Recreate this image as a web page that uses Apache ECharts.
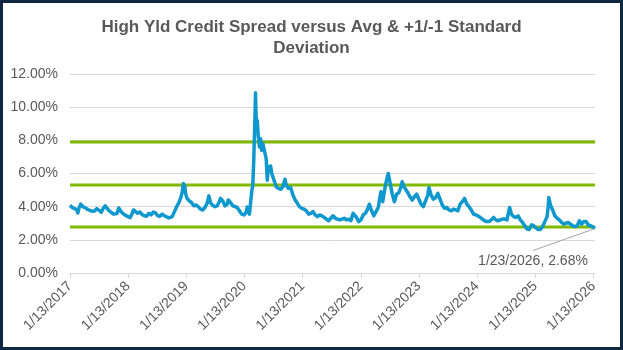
<!DOCTYPE html>
<html>
<head>
<meta charset="utf-8">
<script src="https://cdn.jsdelivr.net/npm/echarts@6/dist/echarts.min.js"></script>
<style>
  html, body { margin: 0; padding: 0; background: #ffffff; }
  #wrap { position: relative; width: 623px; height: 350px; }
  #chart { position: absolute; left: 0; top: 0; width: 623px; height: 350px; }
  #frame { position: absolute; left: 0; top: 0; width: 623px; height: 350px;
           box-sizing: border-box; border: 3px solid #0E2841; pointer-events: none; }
</style>
</head>
<body>
<div id="wrap">
  <div id="chart"></div>
  <div id="frame"></div>
</div>
<script>
// Observation dates (roughly every two weeks, extra points around sharp moves)
const obsDates = [
  '2017-01-13','2017-01-27','2017-02-10','2017-02-24','2017-03-03','2017-03-10','2017-03-21','2017-04-07','2017-04-21','2017-05-05','2017-05-19','2017-06-02','2017-06-16','2017-06-30','2017-07-14','2017-07-28','2017-08-11','2017-08-22','2017-09-01','2017-09-15','2017-09-29','2017-10-13','2017-10-24','2017-11-03','2017-11-15','2017-11-28','2017-12-12','2017-12-27',
  '2018-01-12','2018-01-26','2018-02-09','2018-02-16','2018-02-28','2018-03-14','2018-03-28','2018-04-11','2018-04-25','2018-05-09','2018-05-23','2018-06-06','2018-06-20','2018-07-04','2018-07-18','2018-08-01','2018-08-15','2018-08-29','2018-09-12','2018-09-26','2018-10-05','2018-10-17','2018-10-31','2018-11-14','2018-11-28','2018-12-12','2018-12-19','2018-12-26',
  '2019-01-04','2019-01-09','2019-01-18','2019-02-01','2019-02-15','2019-03-01','2019-03-15','2019-03-29','2019-04-12','2019-04-26','2019-05-10','2019-05-24','2019-06-04','2019-06-14','2019-06-28','2019-07-12','2019-07-26','2019-08-09','2019-08-16','2019-08-30','2019-09-13','2019-09-27','2019-10-04','2019-10-18','2019-11-01','2019-11-15','2019-11-29','2019-12-13','2019-12-27',
  '2020-01-10','2020-01-24','2020-01-31','2020-02-14','2020-02-21','2020-02-28','2020-03-06','2020-03-12','2020-03-16','2020-03-20','2020-03-23','2020-03-26','2020-03-31','2020-04-03','2020-04-09','2020-04-17','2020-04-24','2020-05-01','2020-05-08','2020-05-15','2020-05-29','2020-06-05','2020-06-12','2020-06-19','2020-06-26','2020-07-03','2020-07-17','2020-07-31','2020-08-14','2020-08-28','2020-09-11','2020-09-24','2020-10-02','2020-10-16','2020-10-30','2020-11-13','2020-11-27','2020-12-11','2020-12-24',
  '2021-01-08','2021-01-22','2021-02-05','2021-02-19','2021-03-05','2021-03-19','2021-04-02','2021-04-16','2021-04-30','2021-05-14','2021-05-28','2021-06-11','2021-06-25','2021-07-09','2021-07-23','2021-08-06','2021-08-20','2021-09-03','2021-09-17','2021-10-01','2021-10-15','2021-10-29','2021-11-12','2021-11-26','2021-12-03','2021-12-17','2021-12-31',
  '2022-01-14','2022-01-28','2022-02-11','2022-02-25','2022-03-08','2022-03-22','2022-04-05','2022-04-19','2022-05-03','2022-05-12','2022-05-20','2022-05-31','2022-06-10','2022-06-17','2022-06-24','2022-07-05','2022-07-15','2022-07-29','2022-08-12','2022-08-26','2022-09-09','2022-09-23','2022-09-30','2022-10-07','2022-10-21','2022-11-04','2022-11-18','2022-12-02','2022-12-16','2022-12-30',
  '2023-01-13','2023-01-27','2023-02-10','2023-02-24','2023-03-10','2023-03-17','2023-03-31','2023-04-14','2023-04-28','2023-05-12','2023-05-26','2023-06-09','2023-06-23','2023-07-07','2023-07-21','2023-08-04','2023-08-18','2023-09-01','2023-09-15','2023-09-29','2023-10-13','2023-10-27','2023-11-10','2023-11-24','2023-12-08','2023-12-22',
  '2024-01-05','2024-01-19','2024-02-02','2024-02-16','2024-03-01','2024-03-15','2024-03-29','2024-04-12','2024-04-26','2024-05-10','2024-05-24','2024-06-07','2024-06-21','2024-07-05','2024-07-19','2024-08-05','2024-08-16','2024-08-30','2024-09-13','2024-09-27','2024-10-11','2024-10-25','2024-11-08','2024-11-22','2024-12-06','2024-12-20',
  '2025-01-03','2025-01-17','2025-01-31','2025-02-14','2025-02-28','2025-03-14','2025-03-28','2025-04-04','2025-04-08','2025-04-18','2025-05-02','2025-05-16','2025-05-30','2025-06-13','2025-06-27','2025-07-11','2025-07-25','2025-08-08','2025-08-22','2025-09-05','2025-09-19','2025-10-03','2025-10-17','2025-10-31','2025-11-14','2025-11-28','2025-12-12','2025-12-26',
  '2026-01-09','2026-01-23'
];

// High-yield credit spread, percent
const spreadPct = [
  4.08,3.95,3.88,3.82,3.62,3.90,4.15,3.98,3.92,3.82,3.78,3.72,3.74,3.88,3.78,3.66,3.92,4.05,3.92,3.76,3.66,3.55,3.48,3.58,3.92,3.72,3.58,3.48,
  3.40,3.34,3.62,3.80,3.72,3.60,3.68,3.52,3.45,3.42,3.60,3.50,3.68,3.62,3.45,3.42,3.55,3.45,3.38,3.32,3.24,3.40,3.70,4.00,4.25,4.60,4.90,5.40,
  5.20,4.80,4.50,4.35,4.25,4.05,4.10,4.00,3.85,3.80,3.95,4.20,4.65,4.25,4.08,4.00,4.05,4.30,4.50,4.35,4.05,4.15,4.40,4.25,4.05,4.00,3.95,3.75,3.55,
  3.50,3.65,3.98,3.55,3.50,4.90,5.30,6.80,8.20,9.50,10.87,9.60,8.80,9.20,8.30,7.60,8.10,7.40,7.80,7.50,6.90,5.60,6.40,6.20,6.45,6.00,5.60,5.20,5.10,5.05,5.20,5.65,5.30,5.10,5.15,4.70,4.40,4.20,4.00,
  3.90,3.85,3.75,3.55,3.60,3.70,3.50,3.40,3.50,3.45,3.35,3.25,3.15,3.30,3.45,3.30,3.25,3.20,3.25,3.30,3.20,3.25,3.15,3.60,3.55,3.35,3.10,
  3.20,3.50,3.60,3.85,4.15,3.75,3.45,3.70,3.95,4.50,4.90,4.30,4.40,5.30,5.60,6.00,5.50,4.80,4.30,4.75,4.85,5.20,5.50,5.30,5.05,4.85,4.60,4.40,4.60,4.75,
  4.45,4.15,4.00,4.35,4.70,5.15,4.70,4.45,4.55,4.80,4.45,4.10,3.90,3.95,3.80,3.75,3.85,3.80,3.75,4.15,4.30,4.50,4.15,4.00,3.80,3.55,
  3.50,3.45,3.35,3.25,3.15,3.10,3.10,3.20,3.35,3.20,3.15,3.20,3.25,3.25,3.20,3.95,3.55,3.40,3.35,3.45,3.20,3.05,2.85,2.65,2.62,2.90,
  2.85,2.72,2.62,2.62,2.80,3.10,3.40,4.00,4.55,4.10,3.80,3.45,3.30,3.20,3.05,2.95,3.00,3.05,2.95,2.85,2.80,2.85,3.15,2.95,3.10,3.10,2.90,2.85,
  2.78,2.68
];

// Reference levels: long-run average and +/- one standard deviation
const plusOneSd = 7.90;
const averageLevel = 5.30;
const minusOneSd = 2.78;

// Axis tick dates and value-axis settings
const tickDates = ['2017-01-13','2018-01-13','2019-01-13','2020-01-13','2021-01-13',
                   '2022-01-13','2023-01-13','2024-01-13','2025-01-13','2026-01-13'];
const yMin = 0, yMax = 12, yStep = 2;

const toTime = s => { const [y, m, d] = s.split('-').map(Number); return new Date(y, m - 1, d).getTime(); };
const fmtDate = t => { const d = new Date(t); return (d.getMonth() + 1) + '/' + d.getDate() + '/' + d.getFullYear(); };

const seriesData = obsDates.map((d, i) => [toTime(d), spreadPct[i]]);
const firstT = toTime(obsDates[0]);
const lastT = toTime(obsDates[obsDates.length - 1]);
const lastV = spreadPct[spreadPct.length - 1];
const levelLine = v => [[firstT, v], [lastT, v]];
const tickTimes = tickDates.map(toTime);

const FONT = '"Liberation Sans", Arial, sans-serif';
const TXT = '#595959';
const GRID = '#D9D9D9';
const GREEN = '#7FBA00';
const BLUE = '#0F98CE';

const chart = echarts.init(document.getElementById('chart'), null, { renderer: 'canvas' });
chart.setOption({
  animation: false,
  backgroundColor: '#ffffff',
  title: {
    text: 'High Yld Credit Spread versus Avg & +1/-1 Standard\nDeviation',
    left: 'center',
    top: 12,
    textStyle: { fontFamily: FONT, fontSize: 17, fontWeight: 'bold', color: TXT, lineHeight: 21 }
  },
  grid: { left: 70, right: 28, top: 74, bottom: 77 },
  xAxis: {
    // date axis expressed in epoch milliseconds
    type: 'value',
    min: firstT,
    max: lastT,
    axisLine: { show: true, lineStyle: { color: GRID, width: 1 } },
    axisTick: { show: true, length: 5, lineStyle: { color: GRID }, customValues: tickTimes },
    axisLabel: {
      customValues: tickTimes,
      formatter: v => fmtDate(v),
      rotate: 45,
      margin: 11,
      color: TXT,
      fontFamily: FONT,
      fontSize: 14
    },
    splitLine: { show: false }
  },
  yAxis: {
    type: 'value',
    min: yMin,
    max: yMax,
    interval: yStep,
    axisLine: { show: false },
    axisTick: { show: false },
    axisLabel: { formatter: v => v.toFixed(2) + '%', color: TXT, fontFamily: FONT, fontSize: 14, margin: 12 },
    splitLine: { lineStyle: { color: GRID, width: 1 } }
  },
  series: [
    { type: 'line', data: levelLine(plusOneSd), symbol: 'none', lineStyle: { color: GREEN, width: 3 }, z: 2, silent: true },
    { type: 'line', data: levelLine(averageLevel), symbol: 'none', lineStyle: { color: GREEN, width: 3 }, z: 2, silent: true },
    { type: 'line', data: levelLine(minusOneSd), symbol: 'none', lineStyle: { color: GREEN, width: 3 }, z: 2, silent: true },
    { type: 'line', data: seriesData, symbol: 'none', lineStyle: { color: BLUE, width: 3.5, join: 'round' }, z: 3, silent: true },
    {
      // Callout for the most recent observation
      type: 'custom',
      coordinateSystem: 'cartesian2d',
      data: [[lastT, lastV]],
      z: 4,
      silent: true,
      renderItem: (params, api) => {
        const p = api.coord([api.value(0), api.value(1)]);
        return {
          type: 'group',
          children: [
            { type: 'line', shape: { x1: p[0], y1: p[1], x2: p[0] - 62, y2: p[1] + 22 },
              style: { stroke: '#A6A6A6', lineWidth: 1 } },
            { type: 'text', x: p[0] - 62, y: p[1] + 33,
              style: { text: fmtDate(lastT) + ', ' + lastV.toFixed(2) + '%', fill: TXT,
                       font: '14px ' + FONT, align: 'center', verticalAlign: 'middle' } }
          ]
        };
      }
    }
  ]
});
</script>
</body>
</html>
